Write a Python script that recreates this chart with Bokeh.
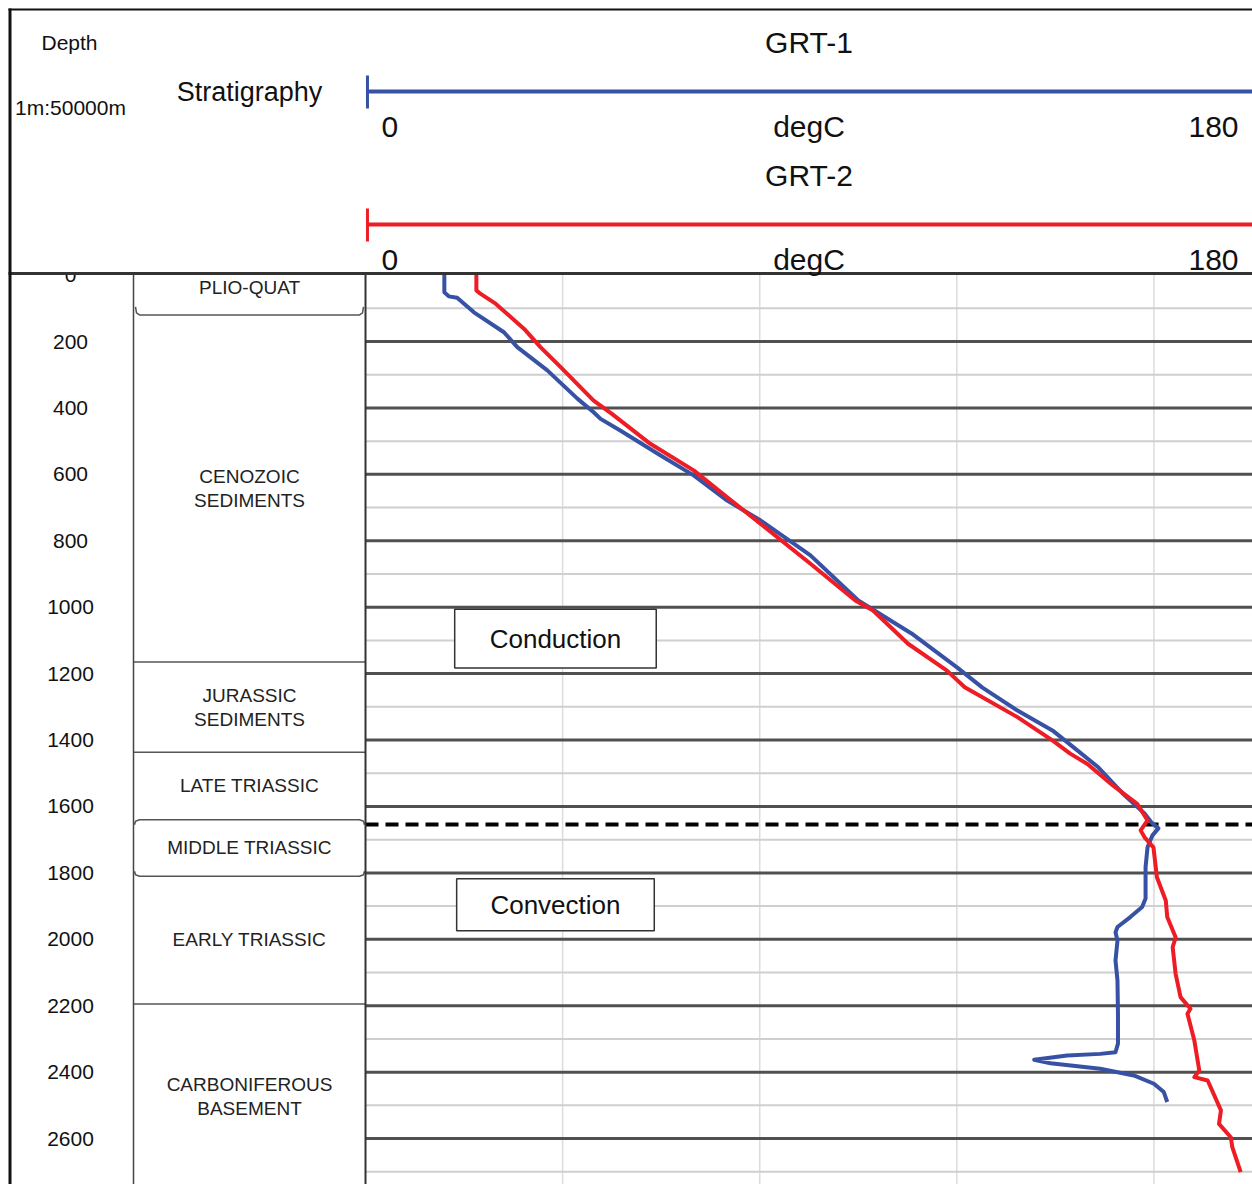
import numpy as np
from bokeh.plotting import figure
from bokeh.models import Range1d
from bokeh.embed import file_html
from bokeh.resources import INLINE
from bokeh.core.properties import value

# ---------------- data ----------------
grt1_temp = [16.0, 16.0, 16.9, 18.6, 22.0, 28.1, 30.8, 36.9, 43.0, 46.3, 47.7, 51.7, 59.9, 66.6,
             73.4, 80.2, 90.3, 100.0, 110.8, 120.1, 125.2, 132.3, 139.4, 143.7, 148.7, 153.6,
             158.1, 159.5, 160.9, 159.7, 158.7, 158.3, 158.3, 157.6, 155.2, 152.6, 152.2, 152.6,
             152.2, 152.6, 152.7, 152.7, 152.2, 149.1, 142.4, 135.7, 139.0, 149.1, 155.9, 160.0,
             162.0, 162.7]
grt1_depth = [0, 52, 64, 68, 112, 172, 217, 287, 372, 413, 433, 468, 543, 603,
              679, 739, 844, 980, 1079, 1182, 1242, 1311, 1371, 1422, 1482, 1560,
              1621, 1648, 1666, 1687, 1723, 1783, 1877, 1903, 1933, 1963, 1979, 2004,
              2064, 2124, 2224, 2314, 2340, 2345, 2350, 2363, 2373, 2390, 2410, 2435,
              2460, 2490]

grt2_temp = [22.5, 22.5, 23.3, 26.4, 32.2, 35.5, 39.6, 46.3, 50.0, 57.8, 66.6, 73.4, 80.2, 90.3,
             99.4, 103.0, 110.1, 118.0, 121.6, 132.3, 139.4, 143.0, 146.5, 151.6, 156.6, 158.7,
             157.3, 158.1, 159.9, 160.6, 162.4, 162.7, 164.4, 163.8, 164.4, 165.4, 167.4, 166.8,
             168.2, 169.2, 168.2, 170.9, 173.6, 173.2, 175.6, 175.9, 177.6]
grt2_depth = [0, 46, 56, 86, 162, 217, 277, 378, 418, 508, 588, 669, 749, 869,
              980, 1010, 1110, 1191, 1241, 1331, 1401, 1441, 1472, 1536, 1592, 1642,
              1672, 1693, 1723, 1813, 1883, 1933, 1994, 2024, 2104, 2174, 2209, 2224,
              2305, 2395, 2415, 2425, 2515, 2556, 2596, 2626, 2701]

depth_ticks = [0, 200, 400, 600, 800, 1000, 1200, 1400, 1600, 1800, 2000, 2200, 2400, 2600]
major_lines = [200, 400, 600, 800, 1000, 1200, 1400, 1600, 1800, 2000, 2200, 2400, 2600]
minor_lines = [100, 300, 500, 700, 900, 1100, 1300, 1500, 1700, 1900, 2100, 2300, 2500, 2700]
temp_grid = [40, 80, 120, 160]
temp_min, temp_max = 0, 180

strat_names = ["PLIO-QUAT", "CENOZOIC\nSEDIMENTS", "JURASSIC\nSEDIMENTS", "LATE TRIASSIC",
               "MIDDLE TRIASSIC", "EARLY TRIASSIC", "CARBONIFEROUS\nBASEMENT"]
strat_label_depth = [38, 642, 1301, 1538, 1725, 2002, 2473]
strat_plain_bounds = [1165, 1437, 2195]
plio_base = 120
middle_tri_top, middle_tri_base = 1640, 1810

transition_depth = 1654
conduction_box = dict(t0=18.1, t1=59.0, d0=1006, d1=1183, label="Conduction")
convection_box = dict(t0=18.5, t1=58.6, d0=1818, d1=1974, label="Convection")

# ---------------- layout (page pixels) ----------------
LEFT, TOP, RIGHT, BOTTOM = 0, 0, 1252, 1184
X0, X180 = 365, 1252            # px of 0 and 180 degC
Y_D0, PX_PER_M = 274.6, 0.3321  # px of depth 0, px per m
BLUE = "#3752a4"
RED = "#ee1c25"
FONT = value("Liberation Sans")

ppd = (X180 - X0) / (temp_max - temp_min)
xr = Range1d(temp_min - (X0 - LEFT) / ppd, temp_max + (RIGHT - X180) / ppd)
yr = Range1d((BOTTOM - Y_D0) / PX_PER_M, (TOP - Y_D0) / PX_PER_M)

p = figure(width=RIGHT - LEFT, height=BOTTOM - TOP, x_range=xr, y_range=yr,
           output_backend="svg", toolbar_location=None, min_border=0,
           x_axis_location=None, y_axis_location=None, title=None,
           outline_line_color=None, background_fill_color="white")
p.extra_x_ranges = {"px": Range1d(LEFT, RIGHT)}
p.extra_y_ranges = {"py": Range1d(BOTTOM, TOP)}
p.grid.visible = False

dmax = yr.start

# track gridlines
p.segment(x0=temp_grid, x1=temp_grid, y0=[0] * len(temp_grid), y1=[dmax] * len(temp_grid),
          line_color="#dcdcdc", line_width=1.5)
p.segment(x0=[temp_min] * len(minor_lines), x1=[xr.end] * len(minor_lines),
          y0=minor_lines, y1=minor_lines, line_color="#cfcfcf", line_width=2)
p.segment(x0=[temp_min] * len(major_lines), x1=[xr.end] * len(major_lines),
          y0=major_lines, y1=major_lines, line_color="#505050", line_width=3)

# annotation boxes
for b in (conduction_box, convection_box):
    p.quad(left=b["t0"], right=b["t1"], top=b["d0"], bottom=b["d1"],
           fill_color="white", line_color="#333333", line_width=1.5)
    p.text(x=[(b["t0"] + b["t1"]) / 2], y=[(b["d0"] + b["d1"]) / 2], text=[b["label"]],
           text_font=FONT, text_font_size="26px", text_color="#111111",
           text_align="center", text_baseline="middle")

# transition dashed line
p.line(x=[temp_min, xr.end], y=[transition_depth, transition_depth],
       line_color="black", line_width=4, line_dash="13 7")

# curves
p.line(x=grt1_temp, y=grt1_depth, line_color=BLUE, line_width=4, line_join="round")
p.line(x=grt2_temp, y=grt2_depth, line_color=RED, line_width=4, line_join="round")

# depth labels
p.text(x=[70] * len(depth_ticks), y=depth_ticks, text=[str(d) for d in depth_ticks],
       x_range_name="px", text_font=FONT, text_font_size="21px", text_color="#111111",
       text_align="center", text_baseline="middle")

# stratigraphy column
p.text(x=[249] * len(strat_names), y=strat_label_depth, text=strat_names,
       x_range_name="px", text_font=FONT, text_font_size="19px", text_color="#222222",
       text_align="center", text_baseline="middle", text_line_height=1.15)
p.segment(x0=[133] * len(strat_plain_bounds), x1=[365] * len(strat_plain_bounds),
          y0=strat_plain_bounds, y1=strat_plain_bounds, x_range_name="px",
          line_color="#555555", line_width=1.5)
k = 1 / PX_PER_M
p.multi_line(
    xs=[[135, 136, 139, 359, 362, 363],
        [134, 135, 139, 359, 363, 364],
        [134, 135, 139, 359, 363, 364]],
    ys=[[plio_base - 8 * k, plio_base - 2 * k, plio_base, plio_base, plio_base - 2 * k, plio_base - 8 * k],
        [middle_tri_top + 5 * k, middle_tri_top + 1.5 * k, middle_tri_top, middle_tri_top, middle_tri_top + 1.5 * k, middle_tri_top + 5 * k],
        [middle_tri_base - 5 * k, middle_tri_base - 1.5 * k, middle_tri_base, middle_tri_base, middle_tri_base - 1.5 * k, middle_tri_base - 5 * k]],
    x_range_name="px", line_color="#555555", line_width=1.5)

# column separators
p.segment(x0=[133, 365], x1=[133, 365], y0=[0, 0], y1=[dmax, dmax], x_range_name="px",
          line_color=["#444444", "#333333"], line_width=[1.5, 2])

# header cover and contents
p.quad(left=LEFT, right=RIGHT, top=TOP, bottom=272, x_range_name="px", y_range_name="py",
       fill_color="white", line_color=None)
p.line(x=[8, RIGHT], y=[273, 273], x_range_name="px", y_range_name="py",
       line_color="#333333", line_width=3)
p.line(x=[8, RIGHT], y=[9, 9], x_range_name="px", y_range_name="py",
       line_color="#111111", line_width=2)
p.line(x=[9.5, 9.5], y=[8, BOTTOM], x_range_name="px", y_range_name="py",
       line_color="#111111", line_width=3)

p.text(x=[69, 70, 249], y=[42, 107, 91], text=["Depth", "1m:50000m", "Stratigraphy"],
       x_range_name="px", y_range_name="py", text_font=FONT,
       text_font_size=["21px", "21px", "27px"], text_color="#111111",
       text_align="center", text_baseline="middle")

for name, color, y_title, y_bar, y_lab in (("GRT-1", BLUE, 42, 91, 126),
                                            ("GRT-2", RED, 175, 224, 259)):
    p.line(x=[temp_min + 0.4, xr.end], y=[y_bar, y_bar], y_range_name="py",
           line_color=color, line_width=4)
    p.line(x=[temp_min + 0.4, temp_min + 0.4], y=[y_bar - 16, y_bar + 17], y_range_name="py",
           line_color=color, line_width=3)
    mid = (temp_min + temp_max) / 2
    p.text(x=[mid, mid], y=[y_title, y_lab], text=[name, "degC"], y_range_name="py",
           text_font=FONT, text_font_size="30px", text_color="#111111",
           text_align="center", text_baseline="middle")
    p.text(x=[temp_min], y=[y_lab], text=[str(temp_min)], y_range_name="py", x_offset=16,
           text_font=FONT, text_font_size="30px", text_color="#111111",
           text_align="left", text_baseline="middle")
    p.text(x=[temp_max], y=[y_lab], text=[str(temp_max)], y_range_name="py", x_offset=-14,
           text_font=FONT, text_font_size="30px", text_color="#111111",
           text_align="right", text_baseline="middle")

open("out.html", "w").write(file_html(p, INLINE))
